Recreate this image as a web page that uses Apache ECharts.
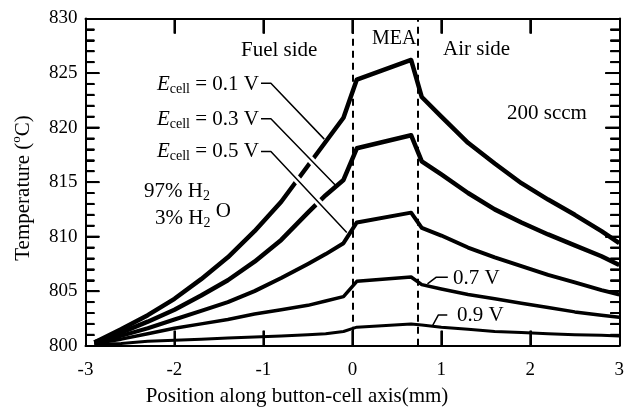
<!DOCTYPE html>
<html>
<head>
<meta charset="utf-8">
<script src="https://cdn.jsdelivr.net/npm/echarts@6/dist/echarts.min.js"></script>
<style>
  html, body { margin: 0; padding: 0; background: #fff; }
  #chart { width: 627px; height: 408px; }
</style>
</head>
<body>
<div id="chart"></div>
<script>
// Sample positions along the button-cell axis (mm)
const positions = [-2.9, -2.6, -2.3, -2.0, -1.7, -1.4, -1.1, -0.8, -0.5, -0.3, -0.1,
                   0.05, 0.66, 0.78, 1.0, 1.3, 1.6, 1.9, 2.2, 2.5, 2.8, 3.0];

// Temperature profiles (°C) for each cell voltage
const temp01V = [800.3, 801.5, 802.8, 804.3, 806.1, 808.1, 810.5, 813.2, 816.5, 818.7, 820.9,
                 824.4, 826.2, 822.8, 821.0, 818.6, 816.7, 814.9, 813.4, 812.0, 810.5, 809.4];
const temp03V = [800.3, 801.2, 802.2, 803.3, 804.6, 806.0, 807.7, 809.7, 812.2, 813.8, 815.2,
                 818.1, 819.3, 816.9, 815.7, 814.0, 812.5, 811.3, 810.2, 809.2, 808.2, 807.4];
const temp05V = [800.2, 800.9, 801.6, 802.4, 803.2, 804.0, 805.0, 806.2, 807.5, 808.4, 809.4,
                 811.3, 812.2, 810.8, 810.1, 809.0, 808.1, 807.3, 806.5, 805.8, 805.1, 804.7];
const temp07V = [800.2, 800.6, 801.1, 801.6, 802.0, 802.4, 802.9, 803.3, 803.7, 804.1, 804.5,
                 805.9, 806.3, 805.6, 805.2, 804.7, 804.3, 803.9, 803.5, 803.1, 802.8, 802.6];
const temp09V = [800.1, 800.2, 800.4, 800.5, 800.6, 800.7, 800.8, 800.9, 801.0, 801.1, 801.3,
                 801.7, 802.0, 801.9, 801.7, 801.5, 801.3, 801.2, 801.1, 801.0, 800.95, 800.9];

const voltageNames = ['0.1 V', '0.3 V', '0.5 V', '0.7 V', '0.9 V'];
const profiles = [temp01V, temp03V, temp05V, temp07V, temp09V];

// MEA boundaries (mm)
const meaBounds = [0, 0.73];

// Axis ranges and tick values
const xRange = [-3, 3];
const yRange = [800, 830];
const xTickValues = [-2, -1, 0, 1, 2];
const yMajorTicks = [805, 810, 815, 820, 825];
const yMinorTicks = [801, 802, 803, 804, 806, 807, 808, 809, 811, 812, 813, 814,
                     816, 817, 818, 819, 821, 822, 823, 824, 826, 827, 828, 829];

// Callout leader paths in data coordinates (label end -> curve)
const leaders = [
  [[-1.027, 824.07], [-0.916, 824.07], [-0.316, 818.94]],
  [[-1.027, 820.80], [-0.916, 820.80], [-0.193, 814.74]],
  [[-1.027, 817.80], [-0.916, 817.80], [-0.063, 810.37]],
  [[1.073, 806.28], [0.944, 806.28], [0.844, 805.66]],
  [[1.067, 802.82], [0.967, 802.82], [0.900, 801.81]]
];

const serif = "'Liberation Serif', 'Times New Roman', serif";
const lineWidths = [4.5, 4.5, 4, 3.5, 3];

// Plot frame layout (px)
const CHART_W = 627, CHART_H = 408;
const gridBox = { left: 85.5, right: 1.5, top: 18.5, bottom: 62.3 };
const plotW = CHART_W - gridBox.left - gridBox.right;
const plotH = CHART_H - gridBox.top - gridBox.bottom;
// data units per pixel, used for tick lengths
const unitX = (xRange[1] - xRange[0]) / plotW;
const unitY = (yRange[1] - yRange[0]) / plotH;

// Inward tick marks on all four sides of the frame, as data-space segments
const tickSegments = [];
xTickValues.forEach(v => {
  tickSegments.push([[v, yRange[0]], [v, yRange[0] + 15 * unitY]]);
  tickSegments.push([[v, yRange[1]], [v, yRange[1] - 15 * unitY]]);
});
yMajorTicks.forEach(v => {
  tickSegments.push([[xRange[0], v], [xRange[0] + 14 * unitX, v]]);
  tickSegments.push([[xRange[1], v], [xRange[1] - 14 * unitX, v]]);
});
yMinorTicks.forEach(v => {
  tickSegments.push([[xRange[0], v], [xRange[0] + 9 * unitX, v]]);
  tickSegments.push([[xRange[1], v], [xRange[1] - 9 * unitX, v]]);
});

const chart = echarts.init(document.getElementById('chart'), null, { renderer: 'canvas' });

const curveSeries = profiles.map((vals, i) => {
  const s = {
    name: voltageNames[i],
    type: 'line',
    data: positions.map((x, j) => [x, vals[j]]),
    showSymbol: false,
    symbol: 'none',
    silent: true,
    z: 2,
    lineStyle: { color: '#000', width: lineWidths[i], join: 'round', cap: 'butt' }
  };
  if (i === 0) {
    // dashed MEA boundaries
    s.markLine = {
      silent: true,
      symbol: ['none', 'none'],
      label: { show: false },
      lineStyle: { color: '#000', width: 2, type: [7, 5] },
      data: meaBounds.map(v => ({ xAxis: v }))
    };
  }
  if (i === 4) {
    // frame tick marks
    s.markLine = {
      silent: true,
      symbol: ['none', 'none'],
      label: { show: false },
      lineStyle: { color: '#000', width: 2, type: 'solid' },
      data: tickSegments.map(seg => [{ coord: seg[0] }, { coord: seg[1] }])
    };
  }
  return s;
});

// White halo under the diagonal part of the leaders that cross other curves
function halo(path) {
  const a = path[1], b = path[2], f = 0.85;
  return [a, [a[0] + (b[0] - a[0]) * f, a[1] + (b[1] - a[1]) * f]];
}
const haloSeries = [1, 2].map(k => ({
  type: 'line',
  data: halo(leaders[k]),
  showSymbol: false, symbol: 'none', silent: true, z: 3,
  lineStyle: { color: '#fff', width: 7, cap: 'butt' }
}));
const leaderSeries = leaders.map(p => ({
  type: 'line',
  data: p,
  showSymbol: false, symbol: 'none', silent: true, z: 4,
  lineStyle: { color: '#000', width: 1.5, join: 'round' }
}));
const tickSeries = tickSegments.map(seg => ({
  type: 'line',
  data: seg,
  clip: false,
  showSymbol: false, symbol: 'none', silent: true, z: 5,
  lineStyle: { color: '#000', width: 2, cap: 'butt' }
}));

function axisX(pos, showLabel) {
  return {
    type: 'value', position: pos, min: xRange[0], max: xRange[1], interval: 1,
    axisLine: { show: true, onZero: false, lineStyle: { color: '#000', width: 2 } },
    axisTick: { show: true, inside: true, length: 15, lineStyle: { color: '#000', width: 1.5 } },
    axisLabel: { show: showLabel, fontSize: 19, fontFamily: serif, color: '#000', margin: 15 },
    splitLine: { show: false }
  };
}
function axisY(pos, showLabel) {
  return {
    type: 'value', position: pos, min: yRange[0], max: yRange[1], interval: 5,
    axisLine: { show: true, onZero: false, lineStyle: { color: '#000', width: 2 } },
    axisTick: { show: true, inside: true, length: 14 },
    minorTick: { show: true, splitNumber: 5, length: 9 },
    axisLabel: { show: showLabel, fontSize: 19, fontFamily: serif, color: '#000', margin: 8 },
    splitLine: { show: false }
  };
}

const baseRich = {
  m: { fontSize: 21, fontFamily: serif, lineHeight: 21, verticalAlign: 'middle', fill: '#000', color: '#000' },
  e: { fontSize: 21, fontFamily: serif, fontStyle: 'italic', lineHeight: 21, verticalAlign: 'middle', fill: '#000', color: '#000' },
  s: { fontSize: 14, fontFamily: serif, lineHeight: 14, padding: [10, 0, 0, 0], verticalAlign: 'middle', fill: '#000', color: '#000' },
  u: { fontSize: 21, fontFamily: serif, lineHeight: 21, padding: [0, 0, 14, 0], verticalAlign: 'middle', fill: '#000', color: '#000' },
  o: { fontSize: 13, fontFamily: serif, lineHeight: 13, padding: [0, 0, 12, 0], verticalAlign: 'middle', fill: '#000', color: '#000' }
};

function label(x, y, text, align, opts) {
  opts = opts || {};
  return {
    type: 'text', x: x, y: y, silent: true, z: 100,
    rotation: opts.rotation || 0,
    style: {
      text: text,
      fontSize: opts.size || 21,
      fontFamily: serif,
      fill: '#000',
      textAlign: align, align: align,
      textVerticalAlign: 'middle', verticalAlign: 'middle',
      rich: baseRich
    }
  };
}

chart.setOption({
  animation: false,
  grid: gridBox,
  xAxis: [axisX('bottom', true), axisX('top', false)],
  yAxis: [axisY('left', true), axisY('right', false)],
  series: [...curveSeries, ...haloSeries, ...leaderSeries, ...tickSeries],
  graphic: [
    label(241, 50, 'Fuel side', 'left'),
    label(372, 39, 'MEA', 'left', { size: 20 }),
    label(443, 49.5, 'Air side', 'left'),
    label(507, 113, '200 sccm', 'left'),
    label(259, 84, '{e|E}{s|cell}{m| = 0.1 V}', 'right'),
    label(259, 119, '{e|E}{s|cell}{m| = 0.3 V}', 'right'),
    label(259, 151, '{e|E}{s|cell}{m| = 0.5 V}', 'right'),
    label(144, 191.5, '{m|97% H}{s|2}', 'left'),
    label(155, 218.5, '{m|3% H}{s|2}{m| }{u|O}', 'left'),
    label(453, 278, '0.7 V', 'left'),
    label(457, 315, '0.9 V', 'left'),
    label(297, 396, 'Position along button-cell axis(mm)', 'center'),
    label(23, 188, '{m|Temperature (}{o|o}{m|C)}', 'center', { rotation: Math.PI / 2 })
  ]
});
</script>
</body>
</html>
